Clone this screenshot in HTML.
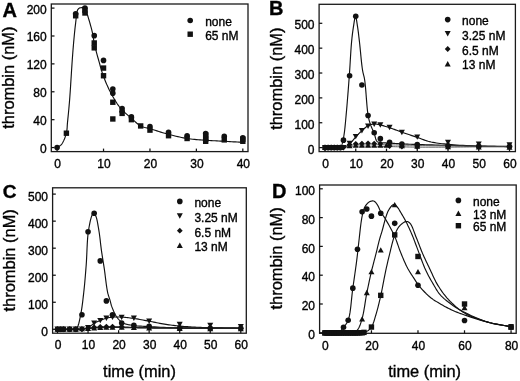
<!DOCTYPE html>
<html><head><meta charset="utf-8"><style>
html,body{margin:0;padding:0;background:#fff;}
svg{display:block;filter:grayscale(1);}
text{font-family:"Liberation Sans", sans-serif;fill:#000;stroke:#000;stroke-width:0.35px;}
</style></head><body>
<svg width="520" height="381" viewBox="0 0 520 381" fill="#111">
<rect width="520" height="381" fill="#fff"/>
<rect x="51.3" y="4" width="196.7" height="147.6" fill="none" stroke="#1a1a1a" stroke-width="1.3"/>
<line x1="57.1" y1="151.6" x2="57.1" y2="148.6" stroke="#111" stroke-width="1.25"/>
<text x="57.6" y="167.8" text-anchor="middle" font-size="12">0</text>
<line x1="103.53" y1="151.6" x2="103.53" y2="148.6" stroke="#111" stroke-width="1.25"/>
<text x="104.03" y="167.8" text-anchor="middle" font-size="12">10</text>
<line x1="149.96" y1="151.6" x2="149.96" y2="148.6" stroke="#111" stroke-width="1.25"/>
<text x="150.46" y="167.8" text-anchor="middle" font-size="12">20</text>
<line x1="196.39" y1="151.6" x2="196.39" y2="148.6" stroke="#111" stroke-width="1.25"/>
<text x="196.89" y="167.8" text-anchor="middle" font-size="12">30</text>
<line x1="242.82" y1="151.6" x2="242.82" y2="148.6" stroke="#111" stroke-width="1.25"/>
<text x="243.32" y="167.8" text-anchor="middle" font-size="12">40</text>
<line x1="51.3" y1="147.56" x2="54.5" y2="147.56" stroke="#111" stroke-width="1.25"/>
<text x="46.7" y="153.06" text-anchor="end" font-size="12">0</text>
<line x1="51.3" y1="119.67" x2="54.5" y2="119.67" stroke="#111" stroke-width="1.25"/>
<text x="46.7" y="125.17" text-anchor="end" font-size="12">40</text>
<line x1="51.3" y1="91.78" x2="54.5" y2="91.78" stroke="#111" stroke-width="1.25"/>
<text x="46.7" y="97.28" text-anchor="end" font-size="12">80</text>
<line x1="51.3" y1="63.88" x2="54.5" y2="63.88" stroke="#111" stroke-width="1.25"/>
<text x="46.7" y="69.38" text-anchor="end" font-size="12">120</text>
<line x1="51.3" y1="35.99" x2="54.5" y2="35.99" stroke="#111" stroke-width="1.25"/>
<text x="46.7" y="41.49" text-anchor="end" font-size="12">160</text>
<line x1="51.3" y1="8.1" x2="54.5" y2="8.1" stroke="#111" stroke-width="1.25"/>
<text x="46.7" y="13.6" text-anchor="end" font-size="12">200</text>
<path d="M57.1 147.56 57.57 147.23 58.05 146.92 58.53 146.62 59.01 146.33 59.49 146.03 59.97 145.72 60.44 145.38 60.89 144.99 61.33 144.56 61.74 144.07 62.32 143.25 62.88 142.31 63.43 141.26 63.95 140.13 64.44 138.95 64.9 137.73 65.33 136.5 65.72 135.27 66.08 134.07 66.39 132.92 66.62 131.89 66.8 130.89 66.94 129.91 67.04 128.92 67.12 127.94 67.19 126.93 67.24 125.89 67.31 124.8 67.39 123.66 67.5 122.46 67.69 120.59 67.88 118.64 68.09 116.59 68.3 114.45 68.52 112.24 68.73 109.95 68.95 107.59 69.17 105.16 69.38 102.68 69.59 100.14 69.87 96.52 70.14 92.6 70.42 88.45 70.7 84.16 70.97 79.8 71.25 75.45 71.51 71.19 71.78 67.09 72.03 63.24 72.28 59.7 72.45 57.39 72.62 55.18 72.78 53.06 72.93 51.02 73.09 49.03 73.25 47.09 73.4 45.18 73.57 43.29 73.73 41.39 73.91 39.48 74.07 37.73 74.24 35.99 74.4 34.26 74.57 32.55 74.75 30.86 74.92 29.18 75.1 27.53 75.29 25.91 75.48 24.31 75.67 22.74 75.83 21.36 75.98 19.94 76.12 18.5 76.26 17.06 76.4 15.66 76.57 14.33 76.75 13.09 76.97 11.97 77.23 10.99 77.53 10.19 77.69 9.88 77.85 9.59 78.02 9.33 78.2 9.1 78.39 8.89 78.58 8.7 78.77 8.52 78.97 8.37 79.18 8.23 79.39 8.1 79.57 8.01 79.76 7.93 79.95 7.88 80.14 7.83 80.34 7.8 80.54 7.78 80.75 7.76 80.96 7.73 81.17 7.71 81.38 7.68 81.64 7.63 81.9 7.57 82.18 7.5 82.46 7.43 82.74 7.37 83.02 7.32 83.29 7.29 83.55 7.29 83.8 7.32 84.03 7.4 84.26 7.54 84.48 7.73 84.69 7.96 84.88 8.22 85.06 8.52 85.23 8.83 85.4 9.16 85.56 9.5 85.72 9.85 85.89 10.19 86.1 10.65 86.29 11.12 86.47 11.61 86.65 12.12 86.82 12.66 86.99 13.22 87.16 13.8 87.34 14.42 87.54 15.08 87.74 15.77 88.14 17.09 88.59 18.58 89.08 20.21 89.58 21.94 90.1 23.74 90.61 25.57 91.11 27.4 91.58 29.19 92.01 30.9 92.39 32.51 92.65 33.76 92.88 34.97 93.09 36.14 93.27 37.29 93.44 38.43 93.61 39.57 93.79 40.72 93.99 41.9 94.22 43.11 94.48 44.36 94.83 45.93 95.22 47.54 95.63 49.2 96.07 50.89 96.53 52.61 96.99 54.33 97.47 56.05 97.94 57.76 98.42 59.44 98.89 61.09 99.33 62.66 99.75 64.21 100.18 65.74 100.61 67.27 101.04 68.79 101.49 70.31 101.96 71.83 102.45 73.36 102.97 74.89 103.53 76.44 104.16 78.1 104.82 79.79 105.5 81.48 106.22 83.19 106.95 84.89 107.71 86.58 108.49 88.26 109.3 89.93 110.12 91.56 110.96 93.17 111.79 94.72 112.64 96.26 113.51 97.8 114.4 99.32 115.31 100.82 116.24 102.29 117.2 103.74 118.18 105.14 119.2 106.5 120.24 107.81 121.27 109 122.33 110.14 123.44 111.25 124.57 112.32 125.71 113.36 126.87 114.38 128.02 115.38 129.17 116.36 130.29 117.32 131.39 118.27 132.33 119.12 133.26 119.98 134.18 120.84 135.09 121.68 136 122.5 136.91 123.29 137.82 124.04 138.75 124.74 139.7 125.38 140.67 125.94 141.55 126.38 142.42 126.73 143.29 127.03 144.17 127.29 145.06 127.52 145.97 127.73 146.91 127.95 147.88 128.18 148.9 128.43 149.96 128.73 151.56 129.22 153.26 129.75 155.06 130.31 156.92 130.89 158.84 131.49 160.78 132.09 162.75 132.68 164.7 133.25 166.64 133.8 168.53 134.31 170.38 134.79 172.23 135.27 174.09 135.74 175.94 136.2 177.8 136.64 179.65 137.06 181.51 137.46 183.37 137.84 185.24 138.18 187.1 138.5 188.95 138.77 190.81 139.01 192.66 139.22 194.52 139.4 196.38 139.56 198.24 139.71 200.1 139.84 201.96 139.97 203.82 140.1 205.68 140.24 207.53 140.37 209.39 140.49 211.25 140.6 213.1 140.71 214.96 140.8 216.82 140.9 218.68 140.99 220.53 141.09 222.39 141.18 224.25 141.28 226.11 141.39 227.96 141.49 229.82 141.6 231.68 141.7 233.53 141.81 235.39 141.91 237.25 142.02 239.11 142.12 240.96 142.23 242.82 142.33" fill="none" stroke="#111" stroke-width="1.15" stroke-linejoin="round"/>
<circle cx="57.1" cy="147.56" r="2.8"/>
<circle cx="75.67" cy="13.68" r="2.8"/>
<circle cx="84.96" cy="8.1" r="2.8"/>
<circle cx="94.24" cy="35.64" r="2.8"/>
<circle cx="103.53" cy="60.4" r="2.8"/>
<circle cx="112.82" cy="88.99" r="2.8"/>
<circle cx="112.82" cy="93.17" r="2.8"/>
<circle cx="122.1" cy="108.51" r="2.8"/>
<circle cx="122.1" cy="111.3" r="2.8"/>
<circle cx="131.39" cy="116.88" r="2.8"/>
<circle cx="149.96" cy="126.64" r="2.8"/>
<circle cx="168.53" cy="132.22" r="2.8"/>
<circle cx="187.1" cy="135.71" r="2.8"/>
<circle cx="205.68" cy="133.61" r="2.8"/>
<circle cx="224.25" cy="136.4" r="2.8"/>
<circle cx="242.82" cy="137.8" r="2.8"/>
<rect x="63.69" y="130.5" width="5.4" height="5.4"/>
<rect x="72.97" y="13.07" width="5.4" height="5.4"/>
<rect x="82.26" y="7.49" width="5.4" height="5.4"/>
<rect x="82.26" y="10.28" width="5.4" height="5.4"/>
<rect x="91.54" y="40.27" width="5.4" height="5.4"/>
<rect x="91.54" y="45.15" width="5.4" height="5.4"/>
<rect x="100.83" y="65.37" width="5.4" height="5.4"/>
<rect x="100.83" y="73.04" width="5.4" height="5.4"/>
<rect x="110.12" y="99.54" width="5.4" height="5.4"/>
<rect x="110.12" y="116.27" width="5.4" height="5.4"/>
<rect x="119.4" y="110.69" width="5.4" height="5.4"/>
<rect x="128.69" y="116.97" width="5.4" height="5.4"/>
<rect x="137.97" y="123.24" width="5.4" height="5.4"/>
<rect x="147.26" y="127.43" width="5.4" height="5.4"/>
<rect x="165.83" y="133.01" width="5.4" height="5.4"/>
<rect x="184.4" y="135.8" width="5.4" height="5.4"/>
<rect x="202.98" y="136.49" width="5.4" height="5.4"/>
<rect x="202.98" y="138.58" width="5.4" height="5.4"/>
<rect x="202.98" y="134.4" width="5.4" height="5.4"/>
<rect x="202.98" y="132.31" width="5.4" height="5.4"/>
<rect x="221.55" y="137.19" width="5.4" height="5.4"/>
<rect x="240.12" y="138.58" width="5.4" height="5.4"/>
<rect x="240.12" y="136.49" width="5.4" height="5.4"/>
<circle cx="190.2" cy="20.5" r="2.8"/>
<text x="205.2" y="25.5" font-size="12">none</text>
<rect x="187.5" y="31.5" width="5.4" height="5.4"/>
<text x="205.2" y="39.9" font-size="12">65 nM</text>
<text transform="translate(14.1 77.65) rotate(-90)" text-anchor="middle" font-size="16.45">thrombin (nM)</text>
<text x="2.4" y="16.7" font-size="20" font-weight="bold">A</text>
<rect x="319.1" y="4.3" width="196.3" height="147.3" fill="none" stroke="#1a1a1a" stroke-width="1.3"/>
<line x1="325" y1="151.6" x2="325" y2="148.6" stroke="#111" stroke-width="1.25"/>
<text x="325.5" y="167.8" text-anchor="middle" font-size="12">0</text>
<line x1="355.75" y1="151.6" x2="355.75" y2="148.6" stroke="#111" stroke-width="1.25"/>
<text x="356.25" y="167.8" text-anchor="middle" font-size="12">10</text>
<line x1="386.5" y1="151.6" x2="386.5" y2="148.6" stroke="#111" stroke-width="1.25"/>
<text x="387" y="167.8" text-anchor="middle" font-size="12">20</text>
<line x1="417.25" y1="151.6" x2="417.25" y2="148.6" stroke="#111" stroke-width="1.25"/>
<text x="417.75" y="167.8" text-anchor="middle" font-size="12">30</text>
<line x1="448" y1="151.6" x2="448" y2="148.6" stroke="#111" stroke-width="1.25"/>
<text x="448.5" y="167.8" text-anchor="middle" font-size="12">40</text>
<line x1="478.75" y1="151.6" x2="478.75" y2="148.6" stroke="#111" stroke-width="1.25"/>
<text x="479.25" y="167.8" text-anchor="middle" font-size="12">50</text>
<line x1="509.5" y1="151.6" x2="509.5" y2="148.6" stroke="#111" stroke-width="1.25"/>
<text x="510" y="167.8" text-anchor="middle" font-size="12">60</text>
<line x1="319.1" y1="147.6" x2="322.3" y2="147.6" stroke="#111" stroke-width="1.25"/>
<text x="314.5" y="153.7" text-anchor="end" font-size="12">0</text>
<line x1="319.1" y1="122.74" x2="322.3" y2="122.74" stroke="#111" stroke-width="1.25"/>
<text x="314.5" y="128.84" text-anchor="end" font-size="12">100</text>
<line x1="319.1" y1="97.88" x2="322.3" y2="97.88" stroke="#111" stroke-width="1.25"/>
<text x="314.5" y="103.98" text-anchor="end" font-size="12">200</text>
<line x1="319.1" y1="73.02" x2="322.3" y2="73.02" stroke="#111" stroke-width="1.25"/>
<text x="314.5" y="79.12" text-anchor="end" font-size="12">300</text>
<line x1="319.1" y1="48.16" x2="322.3" y2="48.16" stroke="#111" stroke-width="1.25"/>
<text x="314.5" y="54.26" text-anchor="end" font-size="12">400</text>
<line x1="319.1" y1="23.3" x2="322.3" y2="23.3" stroke="#111" stroke-width="1.25"/>
<text x="314.5" y="29.4" text-anchor="end" font-size="12">500</text>
<path d="M325 147.6 326.43 147.63 327.95 147.7 329.5 147.8 331.07 147.9 332.62 147.99 334.11 148.05 335.51 148.06 336.79 148 337.91 147.86 338.84 147.6 339.24 147.43 339.61 147.24 339.93 147.03 340.23 146.8 340.5 146.56 340.75 146.3 340.98 146.02 341.19 145.73 341.4 145.43 341.61 145.11 341.82 144.73 342.01 144.32 342.17 143.88 342.31 143.42 342.43 142.95 342.55 142.46 342.66 141.95 342.76 141.44 342.87 140.92 342.99 140.39 343.14 139.73 343.28 139.07 343.42 138.4 343.55 137.72 343.68 137.01 343.81 136.28 343.93 135.51 344.06 134.7 344.18 133.84 344.31 132.93 344.53 131.3 344.74 129.52 344.95 127.62 345.15 125.61 345.36 123.51 345.57 121.32 345.77 119.07 345.98 116.76 346.19 114.42 346.4 112.05 346.69 108.84 346.98 105.45 347.27 101.93 347.57 98.3 347.87 94.58 348.17 90.83 348.46 87.06 348.75 83.31 349.02 79.62 349.29 76 349.54 72.48 349.77 68.88 350 65.24 350.22 61.59 350.43 57.98 350.65 54.44 350.87 51 351.1 47.71 351.34 44.59 351.6 41.7 351.78 39.84 351.97 38.06 352.16 36.34 352.35 34.69 352.54 33.1 352.74 31.56 352.95 30.06 353.16 28.6 353.38 27.18 353.6 25.79 353.78 24.65 353.96 23.43 354.15 22.17 354.34 20.92 354.53 19.72 354.73 18.64 354.92 17.71 355.12 16.98 355.31 16.51 355.5 16.34 355.7 16.51 355.89 16.98 356.09 17.71 356.28 18.64 356.48 19.72 356.67 20.92 356.86 22.17 357.05 23.43 357.23 24.65 357.41 25.79 357.63 27.19 357.84 28.63 358.05 30.11 358.25 31.63 358.44 33.19 358.63 34.8 358.83 36.45 359.03 38.15 359.23 39.9 359.44 41.7 359.73 44.27 360.02 47.08 360.31 50.06 360.61 53.15 360.91 56.27 361.22 59.36 361.53 62.35 361.85 65.18 362.18 67.76 362.51 70.04 362.72 71.21 362.93 72.26 363.15 73.21 363.37 74.09 363.59 74.95 363.81 75.81 364.03 76.7 364.25 77.68 364.46 78.76 364.67 79.98 365.03 82.72 365.37 85.98 365.7 89.63 366.01 93.55 366.32 97.59 366.64 101.62 366.96 105.52 367.3 109.14 367.66 112.36 368.05 115.03 368.26 116.2 368.46 117.27 368.67 118.25 368.88 119.17 369.09 120.03 369.31 120.86 369.55 121.68 369.8 122.5 370.07 123.35 370.36 124.23 370.68 125.16 371.04 126.1 371.43 127.03 371.83 127.96 372.24 128.88 372.65 129.8 373.06 130.72 373.46 131.63 373.84 132.53 374.2 133.43 374.49 134.28 374.75 135.17 374.99 136.09 375.22 137.01 375.45 137.91 375.68 138.77 375.94 139.57 376.24 140.29 376.57 140.9 376.97 141.38 377.25 141.63 377.54 141.82 377.83 141.97 378.14 142.09 378.47 142.18 378.81 142.25 379.16 142.31 379.54 142.37 379.93 142.43 380.35 142.5 381.08 142.62 381.88 142.72 382.73 142.8 383.64 142.86 384.59 142.9 385.57 142.94 386.56 142.98 387.57 143.02 388.58 143.07 389.57 143.13 390.73 143.2 391.9 143.28 393.09 143.35 394.3 143.43 395.53 143.51 396.77 143.58 398.03 143.66 399.3 143.73 400.58 143.8 401.88 143.87 403.32 143.94 404.76 144.01 406.19 144.07 407.65 144.14 409.12 144.2 410.64 144.26 412.2 144.31 413.81 144.37 415.49 144.43 417.25 144.49 419.9 144.58 422.72 144.67 425.7 144.76 428.79 144.85 431.97 144.94 435.19 145.02 438.44 145.11 441.68 145.2 444.88 145.28 448 145.36 451.07 145.44 454.15 145.53 457.22 145.61 460.3 145.69 463.37 145.77 466.45 145.85 469.52 145.93 472.6 145.99 475.67 146.05 478.75 146.11 481.82 146.15 484.9 146.19 487.97 146.22 491.05 146.24 494.12 146.26 497.2 146.28 500.27 146.3 503.35 146.32 506.42 146.33 509.5 146.36" fill="none" stroke="#111" stroke-width="1.15" stroke-linejoin="round"/>
<path d="M325 147.6 326.89 147.61 328.86 147.66 330.87 147.73 332.88 147.82 334.88 147.89 336.83 147.93 338.69 147.91 340.43 147.83 342.03 147.65 343.45 147.35 344.23 147.12 344.95 146.86 345.61 146.57 346.24 146.26 346.82 145.92 347.39 145.56 347.94 145.17 348.48 144.76 349.03 144.33 349.6 143.87 350.25 143.3 350.89 142.67 351.51 142 352.12 141.29 352.72 140.55 353.32 139.81 353.92 139.06 354.52 138.32 355.13 137.6 355.75 136.91 356.36 136.26 356.96 135.62 357.57 134.97 358.18 134.34 358.79 133.71 359.41 133.08 360.03 132.47 360.65 131.86 361.27 131.27 361.9 130.7 362.5 130.15 363.1 129.59 363.7 129.04 364.3 128.49 364.91 127.95 365.52 127.44 366.14 126.95 366.77 126.5 367.4 126.09 368.05 125.72 368.64 125.43 369.24 125.17 369.85 124.92 370.46 124.71 371.08 124.52 371.71 124.36 372.33 124.22 372.96 124.11 373.58 124.03 374.2 123.98 374.81 123.97 375.41 123.99 376 124.05 376.6 124.14 377.2 124.24 377.8 124.37 378.42 124.52 379.05 124.67 379.69 124.82 380.35 124.98 381.2 125.18 382.06 125.4 382.95 125.64 383.86 125.9 384.78 126.18 385.71 126.47 386.66 126.76 387.62 127.07 388.6 127.39 389.57 127.71 390.73 128.1 391.91 128.52 393.1 128.95 394.31 129.39 395.53 129.85 396.77 130.32 398.03 130.79 399.3 131.26 400.58 131.72 401.88 132.19 403.35 132.7 404.86 133.22 406.41 133.75 407.98 134.28 409.56 134.81 411.14 135.35 412.71 135.87 414.26 136.39 415.77 136.91 417.25 137.41 418.52 137.86 419.75 138.31 420.95 138.76 422.13 139.21 423.31 139.66 424.49 140.09 425.7 140.51 426.93 140.91 428.21 141.28 429.55 141.63 431.21 142.02 432.9 142.36 434.64 142.68 436.41 142.97 438.22 143.23 440.08 143.48 441.98 143.72 443.94 143.94 445.94 144.16 448 144.37 450.75 144.63 453.64 144.86 456.64 145.08 459.73 145.27 462.88 145.44 466.07 145.6 469.27 145.74 472.47 145.87 475.64 145.99 478.75 146.11 481.82 146.21 484.9 146.29 487.97 146.35 491.05 146.4 494.12 146.43 497.2 146.47 500.27 146.5 503.35 146.53 506.42 146.56 509.5 146.61" fill="none" stroke="#111" stroke-width="1.15" stroke-linejoin="round"/>
<path d="M325 147.6 326.89 147.59 328.85 147.6 330.85 147.63 332.86 147.66 334.85 147.69 336.8 147.7 338.66 147.68 340.4 147.62 342.01 147.51 343.45 147.35 344.21 147.22 344.9 147.07 345.55 146.89 346.16 146.7 346.74 146.51 347.3 146.31 347.86 146.12 348.42 145.93 349 145.76 349.6 145.61 350.2 145.48 350.79 145.36 351.37 145.24 351.95 145.14 352.54 145.04 353.13 144.94 353.74 144.85 354.38 144.77 355.05 144.69 355.75 144.62 356.81 144.52 357.94 144.43 359.13 144.36 360.36 144.29 361.63 144.24 362.92 144.2 364.23 144.16 365.52 144.14 366.8 144.12 368.05 144.12 369.26 144.13 370.46 144.16 371.63 144.2 372.81 144.25 373.99 144.31 375.18 144.38 376.41 144.44 377.67 144.51 378.98 144.57 380.35 144.62 382.28 144.67 384.33 144.73 386.48 144.79 388.7 144.84 390.96 144.89 393.24 144.94 395.49 144.99 397.71 145.03 399.84 145.07 401.88 145.11 403.49 145.14 405.03 145.17 406.51 145.2 407.96 145.22 409.39 145.24 410.84 145.26 412.33 145.29 413.88 145.31 415.51 145.33 417.25 145.36 419.9 145.41 422.72 145.45 425.7 145.5 428.79 145.56 431.97 145.61 435.19 145.66 438.44 145.71 441.68 145.77 444.88 145.81 448 145.86 451.07 145.9 454.15 145.94 457.22 145.98 460.3 146.02 463.37 146.06 466.45 146.1 469.52 146.13 472.6 146.17 475.67 146.2 478.75 146.23 481.82 146.26 484.9 146.29 487.97 146.32 491.05 146.34 494.12 146.36 497.2 146.39 500.27 146.41 503.35 146.43 506.42 146.46 509.5 146.48" fill="none" stroke="#555" stroke-width="0.9" stroke-linejoin="round"/>
<path d="M325 147.6 326.89 147.6 328.85 147.6 330.85 147.62 332.86 147.63 334.85 147.65 336.79 147.65 338.65 147.64 340.4 147.61 342.01 147.56 343.45 147.48 344.2 147.41 344.89 147.33 345.54 147.25 346.15 147.15 346.73 147.05 347.3 146.95 347.86 146.86 348.42 146.77 349 146.68 349.6 146.61 350.2 146.54 350.79 146.48 351.38 146.42 351.96 146.36 352.54 146.31 353.14 146.26 353.75 146.22 354.38 146.18 355.05 146.14 355.75 146.11 356.81 146.07 357.94 146.05 359.13 146.04 360.37 146.04 361.64 146.04 362.93 146.05 364.23 146.06 365.52 146.08 366.8 146.09 368.05 146.11 369.26 146.12 370.46 146.14 371.63 146.16 372.81 146.18 373.99 146.21 375.18 146.24 376.41 146.27 377.67 146.3 378.98 146.33 380.35 146.36 382.28 146.4 384.33 146.45 386.48 146.5 388.7 146.55 390.96 146.61 393.24 146.66 395.49 146.72 397.71 146.77 399.84 146.81 401.88 146.85 403.49 146.89 405.03 146.92 406.51 146.95 407.96 146.97 409.39 147 410.84 147.03 412.33 147.05 413.88 147.07 415.51 147.09 417.25 147.1 419.9 147.12 422.72 147.13 425.7 147.14 428.79 147.14 431.97 147.14 435.19 147.14 438.44 147.13 441.68 147.13 444.88 147.11 448 147.1 451.08 147.09 454.15 147.07 457.23 147.04 460.3 147.01 463.38 146.98 466.45 146.95 469.52 146.92 472.6 146.89 475.67 146.87 478.75 146.85 481.82 146.84 484.9 146.84 487.97 146.84 491.05 146.84 494.12 146.84 497.2 146.84 500.27 146.85 503.35 146.85 506.42 146.85 509.5 146.85" fill="none" stroke="#444" stroke-width="0.9" stroke-linejoin="round"/>
<path d="M322 150.05H328L325 144.65Z"/>
<path d="M325.07 150.05H331.07L328.07 144.65Z"/>
<path d="M328.15 150.05H334.15L331.15 144.65Z"/>
<path d="M331.23 150.05H337.23L334.23 144.65Z"/>
<path d="M334.3 150.05H340.3L337.3 144.65Z"/>
<path d="M337.38 150.05H343.38L340.38 144.65Z"/>
<path d="M346.6 148.31H352.6L349.6 142.91Z"/>
<path d="M352.75 147.81H358.75L355.75 142.41Z"/>
<path d="M358.9 147.81H364.9L361.9 142.41Z"/>
<path d="M365.05 147.81H371.05L368.05 142.41Z"/>
<path d="M371.2 147.81H377.2L374.2 142.41Z"/>
<path d="M377.35 147.81H383.35L380.35 142.41Z"/>
<path d="M383.5 147.81H389.5L386.5 142.41Z"/>
<path d="M398.88 148.31H404.88L401.88 142.91Z"/>
<path d="M414.25 148.81H420.25L417.25 143.41Z"/>
<path d="M445 149.31H451L448 143.91Z"/>
<path d="M475.75 149.55H481.75L478.75 144.15Z"/>
<path d="M506.5 149.8H512.5L509.5 144.4Z"/>
<path d="M325 144.7L327.9 147.6L325 150.5L322.1 147.6Z"/>
<path d="M328.07 144.7L330.97 147.6L328.07 150.5L325.18 147.6Z"/>
<path d="M331.15 144.7L334.05 147.6L331.15 150.5L328.25 147.6Z"/>
<path d="M334.23 144.7L337.12 147.6L334.23 150.5L331.33 147.6Z"/>
<path d="M337.3 144.7L340.2 147.6L337.3 150.5L334.4 147.6Z"/>
<path d="M340.38 144.7L343.27 147.6L340.38 150.5L337.48 147.6Z"/>
<path d="M343.45 144.7L346.35 147.6L343.45 150.5L340.55 147.6Z"/>
<path d="M349.6 141.72L352.5 144.62L349.6 147.52L346.7 144.62Z"/>
<path d="M355.75 140.97L358.65 143.87L355.75 146.77L352.85 143.87Z"/>
<path d="M361.9 140.72L364.8 143.62L361.9 146.52L359 143.62Z"/>
<path d="M368.05 140.47L370.95 143.37L368.05 146.27L365.15 143.37Z"/>
<path d="M374.2 140.72L377.1 143.62L374.2 146.52L371.3 143.62Z"/>
<path d="M380.35 140.97L383.25 143.87L380.35 146.77L377.45 143.87Z"/>
<path d="M389.57 143.21L392.47 146.11L389.57 149.01L386.68 146.11Z"/>
<path d="M401.88 143.71L404.77 146.61L401.88 149.51L398.98 146.61Z"/>
<path d="M417.25 143.95L420.15 146.85L417.25 149.75L414.35 146.85Z"/>
<path d="M448 143.95L450.9 146.85L448 149.75L445.1 146.85Z"/>
<path d="M478.75 143.95L481.65 146.85L478.75 149.75L475.85 146.85Z"/>
<path d="M509.5 143.95L512.4 146.85L509.5 149.75L506.6 146.85Z"/>
<path d="M322 144.9H328L325 150.3Z"/>
<path d="M328.15 144.9H334.15L331.15 150.3Z"/>
<path d="M334.3 144.9H340.3L337.3 150.3Z"/>
<path d="M340.45 144.9H346.45L343.45 150.3Z"/>
<path d="M346.6 140.67H352.6L349.6 146.07Z"/>
<path d="M352.75 133.96H358.75L355.75 139.36Z"/>
<path d="M358.9 128H364.9L361.9 133.4Z"/>
<path d="M365.05 123.52H371.05L368.05 128.92Z"/>
<path d="M371.2 121.53H377.2L374.2 126.93Z"/>
<path d="M377.35 122.28H383.35L380.35 127.68Z"/>
<path d="M386.57 124.76H392.57L389.57 130.16Z"/>
<path d="M398.88 129.74H404.88L401.88 135.14Z"/>
<path d="M414.25 134.46H420.25L417.25 139.86Z"/>
<path d="M445 139.8H451L448 145.2Z"/>
<path d="M475.75 141.42H481.75L478.75 146.82Z"/>
<path d="M506.5 142.29H512.5L509.5 147.69Z"/>
<circle cx="325" cy="147.6" r="2.8"/>
<circle cx="328.07" cy="147.6" r="2.8"/>
<circle cx="331.15" cy="147.6" r="2.8"/>
<circle cx="334.23" cy="147.6" r="2.8"/>
<circle cx="337.3" cy="147.6" r="2.8"/>
<circle cx="340.38" cy="147.6" r="2.8"/>
<circle cx="343.45" cy="140.14" r="2.8"/>
<circle cx="349.6" cy="75.75" r="2.8"/>
<circle cx="355.75" cy="16.34" r="2.8"/>
<circle cx="361.9" cy="84.95" r="2.8"/>
<circle cx="368.05" cy="115.53" r="2.8"/>
<circle cx="374.2" cy="132.68" r="2.8"/>
<circle cx="380.35" cy="138.65" r="2.8"/>
<circle cx="389.57" cy="142.38" r="2.8"/>
<circle cx="401.88" cy="144.12" r="2.8"/>
<circle cx="417.25" cy="144.49" r="2.8"/>
<circle cx="448" cy="145.86" r="2.8"/>
<circle cx="478.75" cy="146.36" r="2.8"/>
<circle cx="509.5" cy="146.61" r="2.8"/>
<circle cx="447.7" cy="19.6" r="2.8"/>
<text x="462.1" y="25" font-size="12">none</text>
<path d="M444.7 31.1H450.7L447.7 36.5Z"/>
<text x="462.1" y="39.9" font-size="12">3.25 nM</text>
<path d="M447.7 46.1L450.6 49L447.7 51.9L444.8 49Z"/>
<text x="462.1" y="54.6" font-size="12">6.5 nM</text>
<path d="M444.7 66.5H450.7L447.7 61.1Z"/>
<text x="462.1" y="69.1" font-size="12">13 nM</text>
<text transform="translate(281.8 78.7) rotate(-90)" text-anchor="middle" font-size="16.45">thrombin (nM)</text>
<text x="268.9" y="14.9" font-size="20" font-weight="bold">B</text>
<rect x="52.6" y="187.8" width="193.7" height="145.4" fill="none" stroke="#1a1a1a" stroke-width="1.3"/>
<line x1="57.5" y1="333.2" x2="57.5" y2="330.2" stroke="#111" stroke-width="1.25"/>
<text x="58" y="349.4" text-anchor="middle" font-size="12">0</text>
<line x1="88.05" y1="333.2" x2="88.05" y2="330.2" stroke="#111" stroke-width="1.25"/>
<text x="88.55" y="349.4" text-anchor="middle" font-size="12">10</text>
<line x1="118.6" y1="333.2" x2="118.6" y2="330.2" stroke="#111" stroke-width="1.25"/>
<text x="119.1" y="349.4" text-anchor="middle" font-size="12">20</text>
<line x1="149.15" y1="333.2" x2="149.15" y2="330.2" stroke="#111" stroke-width="1.25"/>
<text x="149.65" y="349.4" text-anchor="middle" font-size="12">30</text>
<line x1="179.7" y1="333.2" x2="179.7" y2="330.2" stroke="#111" stroke-width="1.25"/>
<text x="180.2" y="349.4" text-anchor="middle" font-size="12">40</text>
<line x1="210.25" y1="333.2" x2="210.25" y2="330.2" stroke="#111" stroke-width="1.25"/>
<text x="210.75" y="349.4" text-anchor="middle" font-size="12">50</text>
<line x1="240.8" y1="333.2" x2="240.8" y2="330.2" stroke="#111" stroke-width="1.25"/>
<text x="241.3" y="349.4" text-anchor="middle" font-size="12">60</text>
<line x1="52.6" y1="329.3" x2="55.8" y2="329.3" stroke="#111" stroke-width="1.25"/>
<text x="48" y="335.7" text-anchor="end" font-size="12">0</text>
<line x1="52.6" y1="302.26" x2="55.8" y2="302.26" stroke="#111" stroke-width="1.25"/>
<text x="48" y="308.66" text-anchor="end" font-size="12">100</text>
<line x1="52.6" y1="275.22" x2="55.8" y2="275.22" stroke="#111" stroke-width="1.25"/>
<text x="48" y="281.62" text-anchor="end" font-size="12">200</text>
<line x1="52.6" y1="248.18" x2="55.8" y2="248.18" stroke="#111" stroke-width="1.25"/>
<text x="48" y="254.58" text-anchor="end" font-size="12">300</text>
<line x1="52.6" y1="221.14" x2="55.8" y2="221.14" stroke="#111" stroke-width="1.25"/>
<text x="48" y="227.54" text-anchor="end" font-size="12">400</text>
<line x1="52.6" y1="194.1" x2="55.8" y2="194.1" stroke="#111" stroke-width="1.25"/>
<text x="48" y="200.5" text-anchor="end" font-size="12">500</text>
<path d="M57.5 329.3 59.25 329.32 61.09 329.38 63 329.46 64.92 329.55 66.81 329.62 68.63 329.67 70.34 329.68 71.88 329.63 73.21 329.51 74.3 329.3 74.69 329.19 75.04 329.09 75.35 328.98 75.63 328.87 75.89 328.74 76.13 328.6 76.36 328.42 76.59 328.22 76.82 327.97 77.05 327.68 77.54 326.91 77.98 325.94 78.39 324.8 78.77 323.51 79.13 322.11 79.46 320.63 79.79 319.09 80.1 317.52 80.41 315.96 80.72 314.43 81.1 312.46 81.46 310.41 81.79 308.29 82.11 306.1 82.41 303.87 82.7 301.59 82.97 299.28 83.24 296.94 83.51 294.6 83.77 292.26 84.06 289.63 84.33 286.97 84.6 284.28 84.85 281.56 85.09 278.81 85.32 276.03 85.55 273.22 85.78 270.39 86 267.54 86.22 264.67 86.43 261.47 86.61 258.13 86.77 254.72 86.92 251.26 87.07 247.8 87.24 244.38 87.43 241.05 87.66 237.84 87.95 234.79 88.29 231.96 88.59 229.97 88.92 227.97 89.27 225.99 89.64 224.06 90.03 222.2 90.42 220.45 90.83 218.85 91.23 217.42 91.63 216.19 92.02 215.19 92.17 214.85 92.32 214.53 92.47 214.23 92.61 213.94 92.76 213.69 92.91 213.47 93.07 213.29 93.22 213.15 93.38 213.06 93.55 213.03 93.75 213.06 93.96 213.17 94.17 213.35 94.39 213.58 94.62 213.86 94.84 214.18 95.06 214.54 95.28 214.92 95.49 215.32 95.69 215.73 96.08 216.7 96.45 217.87 96.81 219.2 97.14 220.67 97.46 222.24 97.76 223.88 98.05 225.57 98.34 227.27 98.62 228.96 98.9 230.6 99.2 232.51 99.49 234.47 99.75 236.49 100 238.55 100.25 240.63 100.48 242.72 100.72 244.81 100.97 246.87 101.22 248.9 101.49 250.88 101.75 252.68 102.02 254.44 102.29 256.17 102.56 257.88 102.84 259.59 103.12 261.3 103.4 263.03 103.68 264.79 103.96 266.6 104.24 268.46 104.57 270.75 104.89 273.19 105.21 275.73 105.53 278.33 105.85 280.93 106.18 283.48 106.52 285.94 106.87 288.25 107.23 290.37 107.6 292.26 107.83 293.25 108.08 294.18 108.32 295.05 108.58 295.87 108.83 296.65 109.08 297.4 109.33 298.14 109.58 298.87 109.82 299.61 110.05 300.37 110.23 301.04 110.4 301.69 110.56 302.33 110.72 302.95 110.87 303.58 111.03 304.2 111.21 304.84 111.4 305.49 111.62 306.16 111.88 306.86 112.26 307.84 112.68 308.89 113.13 309.99 113.61 311.11 114.12 312.25 114.66 313.38 115.23 314.48 115.82 315.53 116.44 316.51 117.07 317.4 117.63 318.11 118.2 318.79 118.78 319.44 119.38 320.05 120 320.64 120.64 321.19 121.3 321.72 122 322.21 122.73 322.66 123.49 323.08 124.38 323.5 125.31 323.85 126.29 324.16 127.29 324.42 128.33 324.64 129.4 324.84 130.49 325.02 131.61 325.18 132.73 325.35 133.88 325.51 135.25 325.7 136.65 325.86 138.07 325.99 139.51 326.1 140.99 326.19 142.51 326.27 144.08 326.34 145.71 326.42 147.4 326.5 149.15 326.6 151.78 326.75 154.59 326.9 157.54 327.06 160.61 327.21 163.77 327.36 166.97 327.5 170.2 327.64 173.42 327.76 176.6 327.86 179.7 327.95 182.75 328.01 185.81 328.05 188.86 328.08 191.92 328.09 194.97 328.09 198.03 328.09 201.08 328.08 204.14 328.08 207.19 328.08 210.25 328.08 213.31 328.1 216.36 328.11 219.42 328.12 222.47 328.14 225.53 328.15 228.58 328.16 231.64 328.18 234.69 328.19 237.75 328.2 240.8 328.22" fill="none" stroke="#111" stroke-width="1.15" stroke-linejoin="round"/>
<path d="M57.5 329.3 60.02 329.29 62.65 329.3 65.35 329.32 68.06 329.34 70.75 329.36 73.35 329.37 75.81 329.35 78.1 329.29 80.16 329.19 81.94 329.03 82.72 328.94 83.44 328.85 84.1 328.76 84.71 328.67 85.29 328.56 85.84 328.44 86.39 328.29 86.93 328.12 87.48 327.92 88.05 327.68 88.68 327.36 89.31 326.98 89.92 326.56 90.52 326.1 91.12 325.62 91.72 325.14 92.32 324.65 92.93 324.19 93.54 323.75 94.16 323.35 94.76 323 95.36 322.67 95.97 322.35 96.58 322.04 97.19 321.75 97.8 321.46 98.42 321.18 99.03 320.9 99.65 320.64 100.27 320.38 100.87 320.13 101.48 319.88 102.09 319.64 102.7 319.41 103.31 319.18 103.92 318.97 104.53 318.76 105.15 318.57 105.76 318.38 106.38 318.21 106.98 318.06 107.57 317.92 108.16 317.78 108.75 317.66 109.35 317.55 109.95 317.45 110.56 317.35 111.18 317.27 111.83 317.2 112.49 317.13 113.32 317.07 114.18 317.02 115.06 316.99 115.96 316.98 116.87 316.97 117.8 316.98 118.75 317.01 119.71 317.04 120.68 317.08 121.66 317.13 122.8 317.2 123.97 317.29 125.15 317.4 126.36 317.52 127.58 317.66 128.81 317.8 130.06 317.96 131.32 318.13 132.59 318.3 133.88 318.48 135.34 318.7 136.83 318.94 138.34 319.19 139.87 319.46 141.41 319.74 142.96 320.03 144.52 320.32 146.07 320.61 147.62 320.9 149.15 321.19 150.68 321.48 152.21 321.78 153.73 322.09 155.26 322.41 156.78 322.73 158.31 323.04 159.84 323.34 161.36 323.63 162.89 323.91 164.43 324.16 165.95 324.4 167.47 324.62 169 324.83 170.53 325.03 172.05 325.23 173.58 325.41 175.11 325.58 176.64 325.75 178.17 325.9 179.7 326.06 181.23 326.2 182.75 326.33 184.28 326.46 185.81 326.57 187.33 326.68 188.86 326.78 190.39 326.88 191.92 326.97 193.45 327.05 194.97 327.14 196.48 327.21 197.95 327.28 199.39 327.34 200.83 327.4 202.28 327.45 203.76 327.5 205.28 327.54 206.86 327.59 208.51 327.63 210.25 327.68 212.88 327.74 215.69 327.8 218.64 327.86 221.71 327.91 224.87 327.96 228.08 328.01 231.3 328.06 234.52 328.11 237.7 328.17 240.8 328.22" fill="none" stroke="#111" stroke-width="1.15" stroke-linejoin="round"/>
<path d="M57.5 329.3 60.02 329.28 62.65 329.27 65.35 329.28 68.06 329.28 70.74 329.28 73.34 329.27 75.81 329.24 78.1 329.2 80.16 329.13 81.94 329.03 82.71 328.97 83.39 328.9 84.01 328.82 84.58 328.74 85.12 328.65 85.65 328.56 86.19 328.47 86.76 328.39 87.37 328.3 88.05 328.22 89.1 328.1 90.22 327.98 91.41 327.86 92.63 327.74 93.9 327.62 95.18 327.51 96.47 327.4 97.76 327.3 99.03 327.21 100.27 327.14 101.48 327.07 102.66 327.02 103.83 326.98 104.99 326.94 106.17 326.91 107.36 326.89 108.57 326.88 109.83 326.87 111.13 326.87 112.49 326.87 114.4 326.88 116.44 326.91 118.58 326.96 120.79 327.02 123.04 327.09 125.29 327.16 127.54 327.23 129.73 327.3 131.86 327.36 133.88 327.41 135.48 327.44 137.01 327.47 138.48 327.5 139.92 327.53 141.34 327.56 142.79 327.58 144.26 327.61 145.8 327.63 147.42 327.65 149.15 327.68 151.78 327.71 154.59 327.74 157.54 327.77 160.62 327.8 163.77 327.83 166.98 327.86 170.2 327.88 173.42 327.9 176.6 327.93 179.7 327.95 182.75 327.97 185.81 327.98 188.86 328 191.92 328.01 194.97 328.02 198.03 328.04 201.08 328.05 204.14 328.06 207.19 328.07 210.25 328.08 213.31 328.1 216.36 328.11 219.42 328.12 222.47 328.14 225.53 328.15 228.58 328.16 231.64 328.18 234.69 328.19 237.75 328.2 240.8 328.22" fill="none" stroke="#222" stroke-width="1.3" stroke-linejoin="round"/>
<path d="M57.5 329.3 60.02 329.28 62.65 329.26 65.35 329.25 68.06 329.24 70.74 329.23 73.34 329.22 75.81 329.19 78.1 329.15 80.16 329.1 81.94 329.03 82.71 328.99 83.39 328.94 84.01 328.89 84.58 328.83 85.12 328.78 85.65 328.72 86.19 328.66 86.76 328.6 87.37 328.55 88.05 328.49 89.1 328.41 90.22 328.32 91.41 328.23 92.63 328.14 93.9 328.05 95.18 327.97 96.47 327.88 97.76 327.81 99.03 327.74 100.27 327.68 101.48 327.63 102.66 327.58 103.83 327.54 104.99 327.51 106.17 327.48 107.36 327.46 108.57 327.44 109.83 327.43 111.13 327.42 112.49 327.41 114.4 327.41 116.44 327.41 118.58 327.43 120.79 327.46 123.04 327.49 125.29 327.53 127.54 327.57 129.73 327.61 131.86 327.65 133.88 327.68 135.48 327.7 137.01 327.73 138.48 327.76 139.92 327.79 141.35 327.81 142.79 327.84 144.26 327.87 145.8 327.9 147.42 327.92 149.15 327.95 151.78 327.98 154.59 328.01 157.54 328.04 160.62 328.07 163.77 328.1 166.98 328.13 170.2 328.15 173.42 328.18 176.6 328.2 179.7 328.22 182.75 328.24 185.81 328.26 188.86 328.27 191.92 328.29 194.97 328.3 198.03 328.32 201.08 328.33 204.14 328.34 207.19 328.35 210.25 328.35 213.3 328.36 216.36 328.36 219.41 328.36 222.47 328.36 225.52 328.36 228.58 328.36 231.63 328.36 234.69 328.36 237.74 328.35 240.8 328.35" fill="none" stroke="#222" stroke-width="1.3" stroke-linejoin="round"/>
<path d="M54.5 331.73H60.5L57.5 326.33Z"/>
<path d="M57.55 331.73H63.55L60.55 326.33Z"/>
<path d="M60.61 331.73H66.61L63.61 326.33Z"/>
<path d="M66.72 331.73H72.72L69.72 326.33Z"/>
<path d="M72.83 331.73H78.83L75.83 326.33Z"/>
<path d="M78.94 331.19H84.94L81.94 325.79Z"/>
<path d="M85.05 330.92H91.05L88.05 325.52Z"/>
<path d="M91.16 330.38H97.16L94.16 324.98Z"/>
<path d="M97.27 330.11H103.27L100.27 324.71Z"/>
<path d="M103.38 329.84H109.38L106.38 324.44Z"/>
<path d="M109.49 329.84H115.49L112.49 324.44Z"/>
<path d="M118.66 329.84H124.66L121.66 324.44Z"/>
<path d="M130.88 330.11H136.88L133.88 324.71Z"/>
<path d="M146.15 330.38H152.15L149.15 324.98Z"/>
<path d="M176.7 330.92H182.7L179.7 325.52Z"/>
<path d="M207.25 331.19H213.25L210.25 325.79Z"/>
<path d="M237.8 331.19H243.8L240.8 325.79Z"/>
<path d="M57.5 326.4L60.4 329.3L57.5 332.2L54.6 329.3Z"/>
<path d="M60.55 326.4L63.45 329.3L60.55 332.2L57.66 329.3Z"/>
<path d="M63.61 326.4L66.51 329.3L63.61 332.2L60.71 329.3Z"/>
<path d="M69.72 326.4L72.62 329.3L69.72 332.2L66.82 329.3Z"/>
<path d="M75.83 326.4L78.73 329.3L75.83 332.2L72.93 329.3Z"/>
<path d="M81.94 326.4L84.84 329.3L81.94 332.2L79.04 329.3Z"/>
<path d="M88.05 325.05L90.95 327.95L88.05 330.85L85.15 327.95Z"/>
<path d="M94.16 324.24L97.06 327.14L94.16 330.04L91.26 327.14Z"/>
<path d="M100.27 323.97L103.17 326.87L100.27 329.77L97.37 326.87Z"/>
<path d="M106.38 323.7L109.28 326.6L106.38 329.5L103.48 326.6Z"/>
<path d="M112.49 323.7L115.39 326.6L112.49 329.5L109.59 326.6Z"/>
<path d="M121.66 323.7L124.56 326.6L121.66 329.5L118.75 326.6Z"/>
<path d="M133.88 324.24L136.78 327.14L133.88 330.04L130.97 327.14Z"/>
<path d="M149.15 324.51L152.05 327.41L149.15 330.31L146.25 327.41Z"/>
<path d="M179.7 325.05L182.6 327.95L179.7 330.85L176.8 327.95Z"/>
<path d="M210.25 325.59L213.15 328.49L210.25 331.39L207.35 328.49Z"/>
<path d="M240.8 325.59L243.7 328.49L240.8 331.39L237.9 328.49Z"/>
<path d="M54.5 326.6H60.5L57.5 332Z"/>
<path d="M60.61 326.6H66.61L63.61 332Z"/>
<path d="M66.72 326.6H72.72L69.72 332Z"/>
<path d="M72.83 326.6H78.83L75.83 332Z"/>
<path d="M78.94 326.6H84.94L81.94 332Z"/>
<path d="M85.05 324.98H91.05L88.05 330.38Z"/>
<path d="M91.16 320.38H97.16L94.16 325.78Z"/>
<path d="M97.27 317.95H103.27L100.27 323.35Z"/>
<path d="M103.38 315.51H109.38L106.38 320.91Z"/>
<path d="M109.49 314.7H115.49L112.49 320.1Z"/>
<path d="M118.66 314.7H124.66L121.66 320.1Z"/>
<path d="M130.88 315.51H136.88L133.88 320.91Z"/>
<path d="M146.15 318.49H152.15L149.15 323.89Z"/>
<path d="M176.7 321.73H182.7L179.7 327.13Z"/>
<path d="M207.25 322.81H213.25L210.25 328.21Z"/>
<path d="M237.8 323.9H243.8L240.8 329.3Z"/>
<circle cx="57.5" cy="329.3" r="2.8"/>
<circle cx="60.55" cy="329.3" r="2.8"/>
<circle cx="63.61" cy="329.3" r="2.8"/>
<circle cx="69.72" cy="329.3" r="2.8"/>
<circle cx="75.83" cy="329.3" r="2.8"/>
<circle cx="81.94" cy="314.7" r="2.8"/>
<circle cx="88.05" cy="231.69" r="2.8"/>
<circle cx="94.16" cy="213.3" r="2.8"/>
<circle cx="100.27" cy="260.89" r="2.8"/>
<circle cx="106.38" cy="300.91" r="2.8"/>
<circle cx="112.49" cy="314.7" r="2.8"/>
<circle cx="121.66" cy="323.08" r="2.8"/>
<circle cx="133.88" cy="325.24" r="2.8"/>
<circle cx="149.15" cy="326.33" r="2.8"/>
<circle cx="179.7" cy="328.08" r="2.8"/>
<circle cx="210.25" cy="328.22" r="2.8"/>
<circle cx="240.8" cy="328.22" r="2.8"/>
<circle cx="179.8" cy="201.4" r="2.8"/>
<text x="194.4" y="207.2" font-size="12">none</text>
<path d="M176.8 213.3H182.8L179.8 218.7Z"/>
<text x="194.4" y="221.9" font-size="12">3.25 nM</text>
<path d="M179.8 227.8L182.7 230.7L179.8 233.6L176.9 230.7Z"/>
<text x="194.4" y="236.5" font-size="12">6.5 nM</text>
<path d="M176.8 247.9H182.8L179.8 242.5Z"/>
<text x="194.4" y="251.1" font-size="12">13 nM</text>
<text transform="translate(14.7 260.3) rotate(-90)" text-anchor="middle" font-size="16.45">thrombin (nM)</text>
<text x="2.7" y="198.2" font-size="19" font-weight="bold">C</text>
<rect x="319.6" y="185" width="196.6" height="148.3" fill="none" stroke="#1a1a1a" stroke-width="1.3"/>
<line x1="324.9" y1="333.3" x2="324.9" y2="330.3" stroke="#111" stroke-width="1.25"/>
<text x="325.4" y="349.5" text-anchor="middle" font-size="12">0</text>
<line x1="371.44" y1="333.3" x2="371.44" y2="330.3" stroke="#111" stroke-width="1.25"/>
<text x="371.94" y="349.5" text-anchor="middle" font-size="12">20</text>
<line x1="417.98" y1="333.3" x2="417.98" y2="330.3" stroke="#111" stroke-width="1.25"/>
<text x="418.48" y="349.5" text-anchor="middle" font-size="12">40</text>
<line x1="464.52" y1="333.3" x2="464.52" y2="330.3" stroke="#111" stroke-width="1.25"/>
<text x="465.02" y="349.5" text-anchor="middle" font-size="12">60</text>
<line x1="511.06" y1="333.3" x2="511.06" y2="330.3" stroke="#111" stroke-width="1.25"/>
<text x="511.56" y="349.5" text-anchor="middle" font-size="12">80</text>
<line x1="319.6" y1="332.8" x2="322.8" y2="332.8" stroke="#111" stroke-width="1.25"/>
<text x="315" y="339" text-anchor="end" font-size="12">0</text>
<line x1="319.6" y1="304" x2="322.8" y2="304" stroke="#111" stroke-width="1.25"/>
<text x="315" y="310.2" text-anchor="end" font-size="12">20</text>
<line x1="319.6" y1="275.2" x2="322.8" y2="275.2" stroke="#111" stroke-width="1.25"/>
<text x="315" y="281.4" text-anchor="end" font-size="12">40</text>
<line x1="319.6" y1="246.4" x2="322.8" y2="246.4" stroke="#111" stroke-width="1.25"/>
<text x="315" y="252.6" text-anchor="end" font-size="12">60</text>
<line x1="319.6" y1="217.6" x2="322.8" y2="217.6" stroke="#111" stroke-width="1.25"/>
<text x="315" y="223.8" text-anchor="end" font-size="12">80</text>
<line x1="319.6" y1="188.8" x2="322.8" y2="188.8" stroke="#111" stroke-width="1.25"/>
<text x="315" y="195" text-anchor="end" font-size="12">100</text>
<path d="M324.9 332.8 326.33 332.76 327.83 332.78 329.36 332.82 330.9 332.87 332.42 332.91 333.89 332.91 335.3 332.84 336.62 332.7 337.81 332.45 338.86 332.08 339.5 331.74 340.06 331.35 340.58 330.92 341.04 330.44 341.48 329.94 341.88 329.41 342.28 328.86 342.68 328.3 343.09 327.74 343.52 327.18 344.01 326.58 344.51 326 345 325.42 345.49 324.83 345.97 324.22 346.45 323.56 346.9 322.86 347.35 322.08 347.77 321.23 348.17 320.27 348.88 318.04 349.49 315.39 350.02 312.38 350.49 309.09 350.9 305.62 351.28 302.03 351.65 298.41 352.02 294.84 352.4 291.4 352.82 288.16 353.24 285.23 353.67 282.28 354.09 279.32 354.52 276.38 354.93 273.46 355.34 270.59 355.73 267.79 356.1 265.07 356.46 262.44 356.78 259.94 357 258.14 357.2 256.44 357.39 254.82 357.56 253.25 357.73 251.71 357.89 250.17 358.06 248.61 358.24 247 358.43 245.31 358.64 243.52 358.93 241 359.24 238.26 359.55 235.36 359.88 232.38 360.22 229.36 360.57 226.39 360.94 223.51 361.32 220.81 361.72 218.34 362.13 216.16 362.38 215 362.61 213.9 362.85 212.85 363.08 211.86 363.33 210.92 363.59 210.02 363.87 209.16 364.19 208.34 364.53 207.56 364.92 206.8 365.27 206.21 365.63 205.63 366.01 205.07 366.41 204.54 366.83 204.03 367.26 203.55 367.71 203.11 368.17 202.71 368.64 202.36 369.11 202.05 369.55 201.81 370 201.59 370.48 201.39 370.97 201.22 371.46 201.08 371.95 200.98 372.43 200.92 372.9 200.91 373.35 200.95 373.77 201.04 374.17 201.2 374.56 201.43 374.93 201.72 375.29 202.05 375.63 202.43 375.97 202.84 376.3 203.28 376.62 203.73 376.94 204.18 377.26 204.64 377.64 205.24 378.01 205.89 378.35 206.59 378.68 207.32 379.01 208.07 379.33 208.84 379.66 209.6 380 210.37 380.36 211.12 380.75 211.84 381.17 212.56 381.59 213.25 382.03 213.92 382.48 214.59 382.94 215.26 383.41 215.95 383.89 216.66 384.38 217.4 384.89 218.19 385.4 219.04 386.2 220.39 387.06 221.85 387.96 223.4 388.89 225.02 389.83 226.7 390.77 228.42 391.7 230.16 392.6 231.9 393.45 233.62 394.24 235.31 394.97 236.97 395.64 238.64 396.28 240.33 396.89 242.03 397.48 243.73 398.07 245.43 398.66 247.13 399.26 248.82 399.88 250.5 400.53 252.16 401.19 253.79 401.87 255.44 402.55 257.11 403.25 258.76 403.95 260.41 404.65 262.03 405.36 263.61 406.08 265.14 406.79 266.6 407.51 268 408.08 269.06 408.66 270.08 409.24 271.05 409.83 272 410.42 272.93 411 273.83 411.59 274.72 412.17 275.6 412.75 276.48 413.33 277.36 413.83 278.15 414.32 278.93 414.79 279.68 415.25 280.42 415.72 281.16 416.2 281.9 416.71 282.65 417.24 283.41 417.82 284.19 418.45 284.99 419.35 286.11 420.34 287.29 421.38 288.51 422.48 289.76 423.63 291.01 424.8 292.25 426 293.47 427.21 294.64 428.42 295.76 429.62 296.8 430.73 297.7 431.86 298.55 433 299.37 434.16 300.15 435.33 300.9 436.51 301.63 437.69 302.35 438.88 303.05 440.07 303.74 441.25 304.43 442.4 305.1 443.55 305.75 444.71 306.39 445.87 307.02 447.03 307.63 448.19 308.23 449.36 308.82 450.53 309.39 451.71 309.94 452.88 310.48 454.02 310.98 455.13 311.45 456.22 311.91 457.32 312.34 458.42 312.76 459.55 313.19 460.71 313.61 461.92 314.04 463.19 314.48 464.52 314.94 466.51 315.63 468.65 316.35 470.89 317.1 473.23 317.87 475.63 318.63 478.07 319.39 480.53 320.14 482.99 320.85 485.41 321.52 487.79 322.14 490.1 322.71 492.42 323.22 494.75 323.71 497.08 324.17 499.41 324.6 501.74 325.03 504.07 325.45 506.4 325.87 508.73 326.3 511.06 326.75" fill="none" stroke="#111" stroke-width="1.15" stroke-linejoin="round"/>
<path d="M324.9 332.8 327.8 332.79 330.87 332.83 334.03 332.9 337.22 332.98 340.36 333.04 343.38 333.06 346.21 333.03 348.77 332.92 351 332.71 352.82 332.37 353.48 332.2 354.06 332.03 354.59 331.86 355.07 331.68 355.51 331.48 355.93 331.25 356.32 330.99 356.7 330.69 357.08 330.33 357.48 329.92 358.07 329.17 358.62 328.3 359.13 327.31 359.61 326.23 360.07 325.06 360.5 323.82 360.92 322.52 361.32 321.17 361.73 319.79 362.13 318.4 362.69 316.28 363.21 313.98 363.69 311.53 364.15 308.96 364.59 306.32 365.01 303.63 365.44 300.94 365.87 298.28 366.32 295.69 366.79 293.2 367.24 290.95 367.69 288.72 368.14 286.51 368.6 284.31 369.06 282.13 369.52 279.96 369.99 277.81 370.47 275.68 370.95 273.56 371.44 271.46 371.91 269.48 372.41 267.5 372.91 265.53 373.42 263.56 373.93 261.61 374.44 259.69 374.94 257.81 375.42 255.97 375.89 254.18 376.33 252.45 376.66 251.09 376.98 249.77 377.29 248.46 377.59 247.19 377.89 245.94 378.18 244.72 378.47 243.52 378.76 242.35 379.05 241.19 379.35 240.06 379.6 239.16 379.84 238.32 380.08 237.51 380.31 236.73 380.55 235.95 380.8 235.16 381.05 234.34 381.32 233.48 381.61 232.56 381.91 231.57 382.43 229.78 382.98 227.74 383.56 225.51 384.17 223.16 384.82 220.77 385.49 218.4 386.19 216.12 386.91 214.01 387.66 212.12 388.43 210.54 388.9 209.71 389.4 208.88 389.91 208.08 390.43 207.33 390.95 206.64 391.48 206.02 392.01 205.5 392.53 205.08 393.04 204.79 393.55 204.64 393.9 204.63 394.26 204.69 394.62 204.82 394.97 205.01 395.33 205.25 395.68 205.52 396.02 205.82 396.37 206.14 396.7 206.47 397.04 206.8 397.48 207.28 397.92 207.82 398.34 208.41 398.76 209.05 399.17 209.72 399.58 210.42 399.98 211.13 400.39 211.85 400.81 212.57 401.23 213.28 401.71 214.08 402.19 214.89 402.68 215.71 403.16 216.54 403.65 217.39 404.14 218.25 404.63 219.14 405.13 220.04 405.62 220.97 406.11 221.92 406.72 223.11 407.33 224.36 407.95 225.65 408.58 226.97 409.2 228.31 409.82 229.67 410.43 231.03 411.02 232.38 411.6 233.71 412.16 235.02 412.66 236.23 413.14 237.4 413.59 238.56 414.03 239.7 414.46 240.85 414.9 242.02 415.34 243.22 415.81 244.46 416.3 245.76 416.82 247.12 417.58 249.14 418.4 251.34 419.25 253.65 420.13 256.06 421.03 258.51 421.95 260.96 422.88 263.38 423.81 265.72 424.74 267.95 425.66 270.02 426.39 271.57 427.12 273.07 427.86 274.51 428.59 275.92 429.33 277.29 430.08 278.63 430.83 279.95 431.58 281.26 432.34 282.55 433.11 283.84 433.79 285.02 434.46 286.18 435.12 287.33 435.78 288.46 436.45 289.58 437.14 290.68 437.86 291.76 438.62 292.83 439.44 293.89 440.32 294.93 441.38 296.07 442.52 297.2 443.73 298.32 444.99 299.42 446.29 300.49 447.61 301.55 448.95 302.57 450.28 303.56 451.6 304.52 452.88 305.44 454.02 306.23 455.13 306.98 456.22 307.69 457.31 308.38 458.4 309.04 459.53 309.69 460.69 310.34 461.9 311 463.17 311.66 464.52 312.35 466.5 313.34 468.62 314.37 470.85 315.42 473.18 316.49 475.58 317.54 478.02 318.58 480.49 319.57 482.95 320.51 485.39 321.37 487.79 322.14 490.09 322.8 492.4 323.37 494.72 323.88 497.05 324.33 499.38 324.75 501.72 325.14 504.06 325.52 506.39 325.91 508.73 326.31 511.06 326.75" fill="none" stroke="#111" stroke-width="1.15" stroke-linejoin="round"/>
<path d="M324.9 332.8 328.78 332.77 332.92 332.77 337.19 332.78 341.51 332.8 345.75 332.8 349.81 332.79 353.58 332.76 356.97 332.68 359.85 332.55 362.13 332.37 362.78 332.3 363.36 332.24 363.88 332.18 364.35 332.12 364.78 332.05 365.19 331.97 365.58 331.86 365.97 331.73 366.36 331.57 366.79 331.36 367.29 331.08 367.79 330.77 368.28 330.43 368.76 330.05 369.24 329.64 369.7 329.19 370.16 328.71 370.6 328.19 371.03 327.63 371.44 327.04 372.01 326.07 372.55 324.99 373.05 323.81 373.52 322.54 373.97 321.21 374.4 319.82 374.83 318.4 375.25 316.96 375.67 315.51 376.09 314.08 376.6 312.39 377.09 310.65 377.57 308.88 378.04 307.07 378.51 305.22 378.96 303.35 379.41 301.45 379.86 299.54 380.31 297.6 380.75 295.65 381.24 293.42 381.72 291.11 382.19 288.75 382.66 286.35 383.12 283.94 383.57 281.53 384.03 279.15 384.49 276.8 384.94 274.52 385.4 272.32 385.8 270.49 386.18 268.71 386.56 266.98 386.94 265.27 387.32 263.58 387.71 261.91 388.1 260.22 388.51 258.53 388.92 256.8 389.36 255.04 389.84 253.07 390.33 251.01 390.83 248.91 391.34 246.78 391.87 244.66 392.4 242.58 392.96 240.56 393.52 238.63 394.11 236.82 394.71 235.17 395.13 234.09 395.55 233.06 395.96 232.07 396.38 231.12 396.81 230.21 397.25 229.34 397.73 228.51 398.23 227.71 398.78 226.96 399.36 226.24 399.95 225.6 400.59 224.95 401.26 224.32 401.97 223.72 402.69 223.15 403.42 222.64 404.14 222.21 404.83 221.86 405.49 221.61 406.11 221.49 406.52 221.47 406.91 221.48 407.3 221.54 407.68 221.64 408.04 221.79 408.41 221.97 408.77 222.19 409.12 222.44 409.48 222.74 409.84 223.07 410.54 223.92 411.22 225.02 411.89 226.33 412.55 227.81 413.19 229.41 413.83 231.1 414.46 232.82 415.09 234.53 415.72 236.19 416.35 237.76 416.99 239.31 417.62 240.88 418.23 242.46 418.84 244.04 419.45 245.63 420.06 247.22 420.68 248.82 421.31 250.42 421.96 252.01 422.63 253.6 423.36 255.25 424.1 256.91 424.87 258.58 425.65 260.25 426.44 261.92 427.23 263.58 428.02 265.23 428.8 266.85 429.57 268.45 430.31 270.02 430.96 271.39 431.58 272.75 432.18 274.09 432.78 275.42 433.38 276.74 433.99 278.04 434.6 279.32 435.24 280.6 435.9 281.86 436.6 283.12 437.31 284.36 438.05 285.59 438.81 286.81 439.59 288.03 440.38 289.23 441.18 290.41 442 291.58 442.83 292.72 443.66 293.84 444.51 294.93 445.3 295.91 446.09 296.87 446.88 297.81 447.69 298.73 448.5 299.63 449.33 300.51 450.18 301.39 451.06 302.26 451.96 303.13 452.88 304 453.92 304.95 454.96 305.9 456.01 306.84 457.09 307.78 458.2 308.71 459.35 309.62 460.55 310.51 461.8 311.39 463.12 312.24 464.52 313.07 466.47 314.12 468.58 315.15 470.81 316.16 473.14 317.13 475.54 318.08 478 318.98 480.47 319.84 482.95 320.66 485.4 321.43 487.79 322.14 490.09 322.77 492.41 323.33 494.73 323.83 497.06 324.29 499.39 324.71 501.72 325.11 504.06 325.5 506.4 325.9 508.73 326.31 511.06 326.75" fill="none" stroke="#111" stroke-width="1.15" stroke-linejoin="round"/>
<rect x="322.2" y="330.1" width="5.4" height="5.4"/>
<rect x="324.53" y="330.1" width="5.4" height="5.4"/>
<rect x="326.85" y="330.1" width="5.4" height="5.4"/>
<rect x="329.18" y="330.1" width="5.4" height="5.4"/>
<rect x="331.51" y="330.1" width="5.4" height="5.4"/>
<rect x="333.83" y="330.1" width="5.4" height="5.4"/>
<rect x="336.16" y="330.1" width="5.4" height="5.4"/>
<rect x="338.49" y="330.1" width="5.4" height="5.4"/>
<rect x="340.82" y="330.1" width="5.4" height="5.4"/>
<rect x="343.14" y="330.1" width="5.4" height="5.4"/>
<rect x="345.47" y="330.1" width="5.4" height="5.4"/>
<rect x="347.8" y="330.1" width="5.4" height="5.4"/>
<rect x="350.12" y="330.1" width="5.4" height="5.4"/>
<rect x="352.45" y="330.1" width="5.4" height="5.4"/>
<rect x="354.78" y="330.1" width="5.4" height="5.4"/>
<rect x="357.1" y="330.1" width="5.4" height="5.4"/>
<rect x="359.43" y="330.1" width="5.4" height="5.4"/>
<rect x="361.29" y="329.67" width="5.4" height="5.4"/>
<rect x="368.74" y="324.34" width="5.4" height="5.4"/>
<rect x="378.05" y="292.66" width="5.4" height="5.4"/>
<rect x="392.01" y="232.18" width="5.4" height="5.4"/>
<rect x="415.28" y="253.78" width="5.4" height="5.4"/>
<rect x="461.82" y="301.3" width="5.4" height="5.4"/>
<rect x="508.36" y="324.05" width="5.4" height="5.4"/>
<path d="M321.9 335.5H327.9L324.9 330.1Z"/>
<path d="M324.23 335.5H330.23L327.23 330.1Z"/>
<path d="M326.55 335.5H332.55L329.55 330.1Z"/>
<path d="M328.88 335.5H334.88L331.88 330.1Z"/>
<path d="M331.21 335.5H337.21L334.21 330.1Z"/>
<path d="M333.53 335.5H339.53L336.53 330.1Z"/>
<path d="M335.86 335.5H341.86L338.86 330.1Z"/>
<path d="M338.19 335.5H344.19L341.19 330.1Z"/>
<path d="M340.52 335.5H346.52L343.52 330.1Z"/>
<path d="M342.84 335.5H348.84L345.84 330.1Z"/>
<path d="M345.17 335.5H351.17L348.17 330.1Z"/>
<path d="M347.5 335.5H353.5L350.5 330.1Z"/>
<path d="M349.82 335.5H355.82L352.82 330.1Z"/>
<path d="M352.15 335.5H358.15L355.15 330.1Z"/>
<path d="M354.48 335.5H360.48L357.48 330.1Z"/>
<path d="M359.13 321.53H365.13L362.13 316.13Z"/>
<path d="M363.79 295.18H369.79L366.79 289.78Z"/>
<path d="M368.44 274.3H374.44L371.44 268.9Z"/>
<path d="M377.75 252.56H383.75L380.75 247.16Z"/>
<path d="M391.71 207.34H397.71L394.71 201.94Z"/>
<path d="M414.98 274.3H420.98L417.98 268.9Z"/>
<path d="M461.52 310.16H467.52L464.52 304.76Z"/>
<path d="M508.06 329.74H514.06L511.06 324.34Z"/>
<circle cx="324.9" cy="332.8" r="2.8"/>
<circle cx="327.23" cy="332.8" r="2.8"/>
<circle cx="329.55" cy="332.8" r="2.8"/>
<circle cx="331.88" cy="332.8" r="2.8"/>
<circle cx="334.21" cy="332.8" r="2.8"/>
<circle cx="336.53" cy="332.8" r="2.8"/>
<circle cx="338.86" cy="332.8" r="2.8"/>
<circle cx="343.52" cy="327.18" r="2.8"/>
<circle cx="348.17" cy="320.27" r="2.8"/>
<circle cx="352.82" cy="288.16" r="2.8"/>
<circle cx="357.48" cy="249.28" r="2.8"/>
<circle cx="362.13" cy="211.84" r="2.8"/>
<circle cx="366.79" cy="208.96" r="2.8"/>
<circle cx="371.44" cy="216.16" r="2.8"/>
<circle cx="380.75" cy="213.28" r="2.8"/>
<circle cx="394.71" cy="223.36" r="2.8"/>
<circle cx="417.98" cy="285.28" r="2.8"/>
<circle cx="464.52" cy="320.56" r="2.8"/>
<circle cx="511.06" cy="327.04" r="2.8"/>
<circle cx="458.4" cy="200.4" r="2.8"/>
<text x="473" y="205.8" font-size="12">none</text>
<path d="M455.4 215.9H461.4L458.4 210.5Z"/>
<text x="473" y="218.8" font-size="12">13 nM</text>
<rect x="455.7" y="223" width="5.4" height="5.4"/>
<text x="473" y="231" font-size="12">65 nM</text>
<text transform="translate(282 258.4) rotate(-90)" text-anchor="middle" font-size="16.45">thrombin (nM)</text>
<text x="272" y="198.1" font-size="20" font-weight="bold">D</text>
<text x="103.1" y="376.8" font-size="16.4">time (min)</text>
<text x="388.2" y="376.8" font-size="16.4">time (min)</text>
</svg>
</body></html>
